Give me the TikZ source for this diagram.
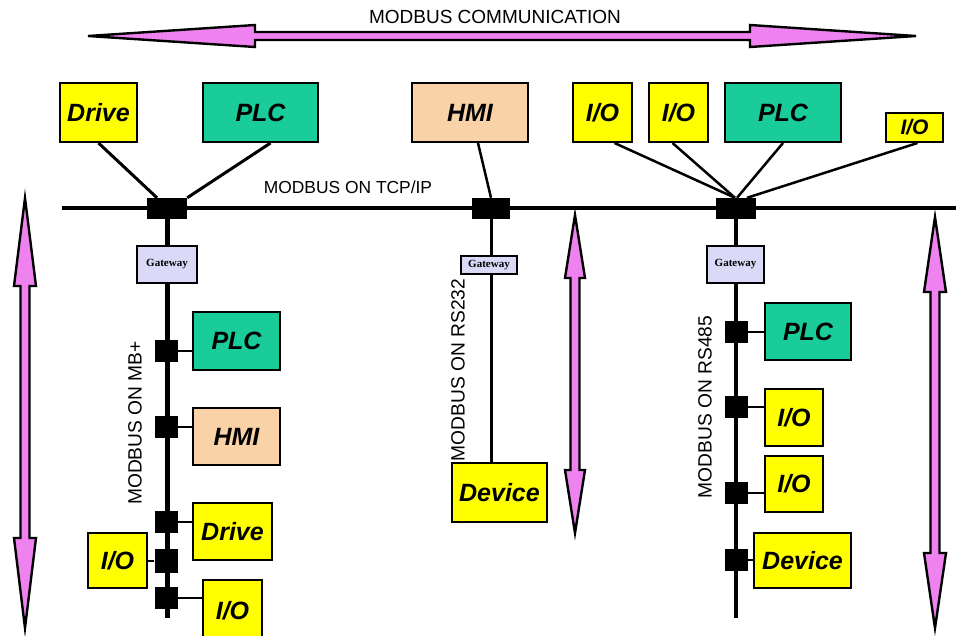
\documentclass[tikz,border=0pt]{standalone}
\usepackage{fontspec}
\setsansfont{Liberation Sans}
\newfontfamily\gwfont{Liberation Serif}
\usetikzlibrary{backgrounds,calc}
\definecolor{plcgreen}{RGB}{25,204,153}
\definecolor{hmipeach}{RGB}{250,210,168}
\definecolor{iyellow}{RGB}{255,255,0}
\definecolor{gwlav}{RGB}{218,218,248}
\definecolor{arrpink}{RGB}{238,130,238}
\tikzset{
 devbox/.style={draw, line width=2pt, inner sep=0pt, text=black,
   font=\sffamily\bfseries\itshape\fontsize{25}{25}\selectfont},
 ybox/.style={devbox, fill=iyellow},
 gbox/.style={devbox, fill=plcgreen},
 pbox/.style={devbox, fill=hmipeach},
 gwbox/.style={draw, line width=1.6pt, fill=gwlav, inner sep=0pt,
   font=\gwfont\bfseries\fontsize{11}{11}\selectfont},
 tap/.style={fill=black, draw=none, inner sep=0pt},
 lbl/.style={font=\sffamily\fontsize{19}{19}\selectfont},
 vlbl/.style={rotate=90, font=\sffamily\fontsize{19.2}{19}\selectfont},
 link/.style={line width=2.5pt},
 stub/.style={line width=1.5pt},
 fatarrow/.style={fill=arrpink, draw=black, line width=2.4pt, line join=miter},
}
\begin{document}
\begin{tikzpicture}[x=1pt,y=-1pt]
\useasboundingbox (0,0) rectangle (956,635);
\clip (0,0) rectangle (956,635);

% big arrows
\draw[fatarrow] (88,36) -- (255,25) -- (255,32) -- (750,32) -- (750,25) -- (916,36) -- (750,47) -- (750,40) -- (255,40) -- (255,47) -- cycle;
\draw[fatarrow] (25,198) -- (36,286) -- (29.5,286) -- (29.5,538) -- (36,538) -- (25,628) -- (14,538) -- (20.5,538) -- (20.5,286) -- (14,286) -- cycle;
\draw[fatarrow] (575,215) -- (585,278) -- (579.5,278) -- (579.5,470) -- (585,470) -- (575,533) -- (565,470) -- (570.5,470) -- (570.5,278) -- (565,278) -- cycle;
\draw[fatarrow] (935,217) -- (946,292) -- (939.5,292) -- (939.5,553) -- (946,553) -- (935,628) -- (924,553) -- (930.5,553) -- (930.5,292) -- (924,292) -- cycle;

\node[lbl] (tcomm) at (495,17) {MODBUS COMMUNICATION};
\node[lbl, font=\sffamily\fontsize{17.4}{17}\selectfont] (ttcp) at (348,187) {MODBUS ON TCP/IP};

% bus
\coordinate (busL) at (62,208);
\coordinate (busR) at (956,208);

% junctions
\node[tap, minimum width=40pt, minimum height=21pt] (j1) at (167,208.5) {};
\node[tap, minimum width=38pt, minimum height=21pt] (j2) at (491,208.5) {};
\node[tap, minimum width=40pt, minimum height=21pt] (j3) at (736,208.5) {};

% top devices
\node[ybox, minimum width=77pt, minimum height=59pt] (drv1) at (98.5,112.5) {Drive};
\node[gbox, minimum width=115pt, minimum height=59pt] (plc1) at (260.5,112.5) {PLC};
\node[pbox, minimum width=116pt, minimum height=59pt] (hmi1) at (470,112.5) {HMI};
\node[ybox, minimum width=59pt, minimum height=59pt] (io1) at (602.5,112.5) {I/O};
\node[ybox, minimum width=59pt, minimum height=59pt] (io2) at (678.5,112.5) {I/O};
\node[gbox, minimum width=116pt, minimum height=59pt] (plc2) at (783,112.5) {PLC};
\node[ybox, minimum width=57pt, minimum height=29pt, font=\sffamily\bfseries\itshape\fontsize{21}{21}\selectfont] (io3) at (914.5,127.5) {I/O};

% gateways
\node[gwbox, minimum width=60pt, minimum height=37pt] (gw1) at (167,264.5) {Gateway};
\node[gwbox, minimum width=56pt, minimum height=18pt] (gw2) at (489,265) {Gateway};
\node[gwbox, minimum width=57pt, minimum height=37pt] (gw3) at (735.5,264.5) {Gateway};

% left branch
\coordinate (endL) at (167,618);
\node[tap, minimum width=23pt, minimum height=22pt] (b1) at (166,351) {};
\node[tap, minimum width=23pt, minimum height=22pt] (b2) at (166,427) {};
\node[tap, minimum width=23pt, minimum height=22pt] (b3) at (166,522) {};
\node[tap, minimum width=23pt, minimum height=24pt] (b4) at (166,561) {};
\node[tap, minimum width=23pt, minimum height=22pt] (b5) at (166,598) {};
\node[gbox, minimum width=87pt, minimum height=58pt] (plc3) at (236.5,341) {PLC};
\node[pbox, minimum width=87pt, minimum height=57pt] (hmi2) at (236.5,436.5) {HMI};
\node[ybox, minimum width=79pt, minimum height=57pt] (drv2) at (232.5,531.5) {Drive};
\node[ybox, minimum width=59pt, minimum height=55pt] (io4) at (117.5,560.5) {I/O};
\node[ybox, minimum width=59pt, minimum height=62pt] (io5) at (232.5,611) {I/O};
\node[vlbl] (tmb) at (135,423) {MODBUS ON MB+};

% middle branch
\node[ybox, minimum width=95pt, minimum height=59pt] (dev1) at (499.5,492.5) {Device};
\node[vlbl] (t232) at (458,370) {MODBUS ON RS232};

% right branch
\coordinate (endR) at (736,618);
\node[tap, minimum width=23pt, minimum height=22pt] (c1) at (736.5,332) {};
\node[tap, minimum width=23pt, minimum height=22pt] (c2) at (736.5,407) {};
\node[tap, minimum width=23pt, minimum height=22pt] (c3) at (736.5,493) {};
\node[tap, minimum width=23pt, minimum height=22pt] (c4) at (736.5,560) {};
\node[gbox, minimum width=86pt, minimum height=57pt] (plc4) at (808,331.5) {PLC};
\node[ybox, minimum width=58pt, minimum height=57pt] (io6) at (794,417.5) {I/O};
\node[ybox, minimum width=58pt, minimum height=56pt] (io7) at (794,484) {I/O};
\node[ybox, minimum width=97pt, minimum height=55pt] (dev2) at (802.5,560.5) {Device};
\node[vlbl] (t485) at (705,407) {MODBUS ON RS485};

\begin{scope}[on background layer]
 \draw[line width=4.5pt] (busL) -- (busR);
 % top links
 \draw[link, line width=3pt] (drv1.south) -- ([xshift=-10pt]j1.north);
 \draw[link, line width=3pt] ([xshift=10pt]plc1.south) -- (j1.north east);
 \draw[link] ([xshift=8pt]hmi1.south) -- (j2.north);
 \draw[link] ([xshift=12pt]io1.south) -- ([xshift=-1pt]j3.north);
 \draw[link] ([xshift=-6pt]io2.south) -- ([xshift=-1pt]j3.north);
 \draw[link] (plc2.south) -- ([xshift=1pt]j3.north);
 \draw[link] ([xshift=3pt]io3.south) -- ([xshift=11pt]j3.north);
 % vertical branches
 \draw[line width=5pt] (j1.south) -- (endL);
 \draw[line width=3pt] (j2.south) -- (j2.south |- dev1.north);
 \draw[line width=4.5pt] (j3.south) -- (endR);
 % stubs
 \draw[stub] (b1.east) -- (b1.east -| plc3.west);
 \draw[stub] (b2.east) -- (b2.east -| hmi2.west);
 \draw[stub] (b3.east) -- (b3.east -| drv2.west);
 \draw[stub] (b4.west) -- (b4.west -| io4.east);
 \draw[stub] (b5.east) -- (b5.east -| io5.west);
 \draw[stub, line width=2pt] (c1.east) -- (c1.east -| plc4.west);
 \draw[stub, line width=2pt] (c2.east) -- (c2.east -| io6.west);
 \draw[stub, line width=2pt] (c3.east) -- (c3.east -| io7.west);
 \draw[stub, line width=2pt] (c4.east) -- (c4.east -| dev2.west);
\end{scope}
\end{tikzpicture}
\end{document}
